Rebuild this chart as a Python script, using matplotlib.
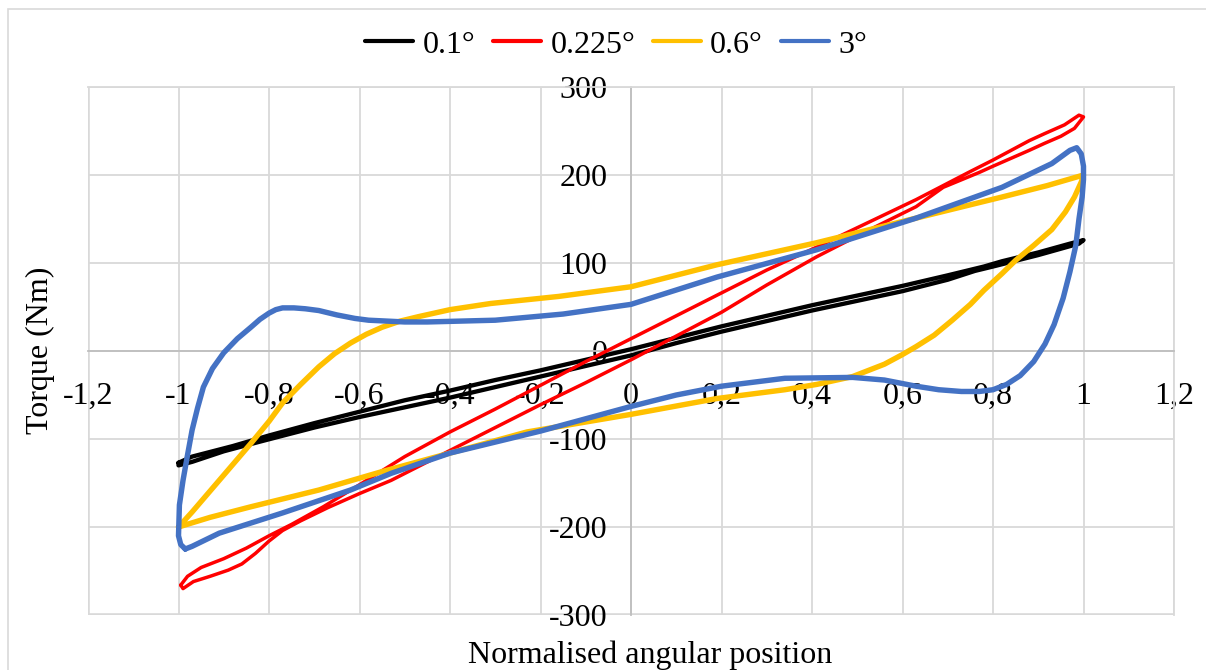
import matplotlib
matplotlib.use("Agg")
import matplotlib.pyplot as plt
from matplotlib.patches import Rectangle

plt.rcParams['font.family'] = ['Liberation Serif', 'DejaVu Serif']

# Hysteresis loops: torque vs normalised angular position
x_01 = [-1.0, -0.97, -0.88, -0.8, -0.7, -0.6, -0.5, -0.4, -0.3, -0.2, -0.1, 0.0,
        0.1, 0.2, 0.3, 0.4, 0.5, 0.6, 0.7, 0.78, 0.82, 0.9, 0.97, 1.0,
        0.99, 0.9, 0.8, 0.76, 0.7, 0.6, 0.5, 0.4, 0.3, 0.2, 0.1, 0.0,
        -0.1, -0.2, -0.3, -0.4, -0.5, -0.6, -0.7, -0.76, -0.82, -0.9, -0.97, -1.0, -1.0]
y_01 = [-127, -120, -108, -96, -82, -69, -56, -45, -33, -22, -10, 2,
        15, 28, 40, 52, 63, 74, 86, 96, 102, 112, 122, 126,
        122, 109, 96, 91, 81, 68, 57, 46, 34, 22, 9, -5,
        -17, -29, -41, -53, -64, -75, -87, -95, -103, -114, -126, -130, -127]

x_0225 = [-0.995, -0.98, -0.95, -0.9, -0.85, -0.8, -0.75, -0.68, -0.6, -0.5, -0.4, -0.3,
          -0.2, -0.1, 0.0, 0.1, 0.2, 0.3, 0.41, 0.52, 0.63, 0.69, 0.75, 0.8, 0.84,
          0.88, 0.914, 0.958, 0.99, 1.0, 0.98, 0.95, 0.914, 0.88, 0.84, 0.8, 0.77,
          0.69, 0.63, 0.52, 0.41, 0.3, 0.2, 0.1, 0.0, -0.1, -0.2, -0.3, -0.4,
          -0.53, -0.6, -0.67, -0.73, -0.77, -0.8, -0.83, -0.86, -0.89, -0.93,
          -0.967, -0.99, -0.995]
y_0225 = [-266, -256, -246, -236, -224, -210, -197, -177, -152, -120, -92, -66,
          -39, -12, 14, 40, 66, 92, 118, 145, 172, 188, 204, 217, 228,
          239, 247, 257, 268, 266, 253, 244, 236, 228, 219, 210, 203,
          186, 164, 136, 107, 75, 44, 17, -10, -36, -61, -87, -113,
          -147, -162, -178, -193, -204, -216, -230, -242, -249, -256,
          -262, -270, -266]

x_06 = [-1.0, -0.97, -0.94, -0.91, -0.875, -0.84, -0.8, -0.77, -0.73, -0.69, -0.655,
        -0.62, -0.585, -0.55, -0.51, -0.47, -0.4, -0.31, -0.16, 0.0, 0.19, 0.41,
        0.63, 0.82, 0.92, 1.0, 0.995, 0.98, 0.96, 0.93, 0.89, 0.85, 0.82, 0.78,
        0.75, 0.71, 0.67, 0.63, 0.6, 0.56, 0.49, 0.41, 0.34, 0.19, 0.0, -0.23,
        -0.4, -0.55, -0.69, -0.84, -0.93, -1.0]
y_06 = [-200, -183, -165, -147, -126, -105, -80, -59, -38, -18, -3,
        9, 19, 27, 34, 39, 47, 54, 62, 73, 98, 123,
        151, 175, 188, 200, 192, 175, 158, 138, 120, 103, 88, 69,
        53, 35, 18, 5, -4, -15, -29, -38, -44, -54, -72, -92,
        -116, -137, -158, -177, -189, -200]

x_3 = [-0.985, -0.995, -1.0, -0.998, -0.99, -0.98, -0.97, -0.958, -0.945, -0.925,
       -0.9, -0.87, -0.84, -0.82, -0.8, -0.785, -0.77, -0.745, -0.72, -0.69,
       -0.65, -0.61, -0.58, -0.54, -0.5, -0.45, -0.3, -0.15, 0.0, 0.19, 0.41,
       0.63, 0.82, 0.93, 0.97, 0.985, 0.995, 1.0, 1.0, 0.997, 0.99, 0.983,
       0.97, 0.955, 0.935, 0.915, 0.89, 0.86, 0.83, 0.8, 0.77, 0.73, 0.68,
       0.63, 0.56, 0.49, 0.34, 0.2, 0.1, 0.0, -0.2, -0.4, -0.53, -0.62, -0.77,
       -0.91, -0.97, -0.985]
y_3 = [-225, -220, -210, -175, -147, -118, -90, -65, -41, -20,
       -2, 14, 27, 36, 43, 47, 49, 49, 48, 46,
       41, 37, 35, 34, 33, 33, 35, 42, 53, 84, 115,
       151, 186, 213, 228, 231, 224, 210, 195, 175, 150, 120,
       90, 60, 30, 8, -12, -28, -38, -44, -46, -46, -44,
       -40, -33, -30, -31, -40, -50, -63, -91, -116, -139, -158, -184,
       -207, -222, -225]

series_labels = ['0.1°', '0.225°', '0.6°', '3°']
series_colors = ['#000000', '#FF0000', '#FFC000', '#4472C4']
series_widths = [3.1, 2.5, 3.9, 3.9]

x_ticks = [-1.2, -1.0, -0.8, -0.6, -0.4, -0.2, 0.0, 0.2, 0.4, 0.6, 0.8, 1.0, 1.2]
x_tick_labels = ['-1,2', '-1', '-0,8', '-0,6', '-0,4', '-0,2', '0',
                 '0,2', '0,4', '0,6', '0,8', '1', '1,2']
y_ticks = [-300, -200, -100, 0, 100, 200, 300]
y_tick_labels = ['-300', '-200', '-100', '0', '100', '200', '300']

FS = 23
W, H = 1206, 670
fig = plt.figure(figsize=(W / 100, H / 100), dpi=100)

# light chart-area border
fig.patches.append(Rectangle((8 / W, -0.1), 1.2, (H - 9) / H + 0.1,
                             transform=fig.transFigure, fill=False,
                             edgecolor='#d9d9d9', linewidth=1.2, zorder=0))

ax = fig.add_axes([88 / W, (H - 615) / H, (1174 - 88) / W, (615 - 87) / H])
ax.set_xlim(-1.2, 1.2)
ax.set_ylim(-300, 300)

grid_c = '#d9d9d9'
ax.set_xticks(x_ticks)
ax.set_xticklabels(x_tick_labels)
ax.set_yticks(y_ticks)
ax.set_yticklabels(y_tick_labels)
ax.grid(True, color=grid_c, linewidth=1.3, zorder=0)
ax.set_axisbelow(True)

for side in ('top', 'right'):
    ax.spines[side].set_color(grid_c)
    ax.spines[side].set_linewidth(1.3)
ax.spines['left'].set_position(('data', 0))
ax.spines['bottom'].set_position(('data', 0))
ax.spines['left'].set_color('#bfbfbf')
ax.spines['bottom'].set_color('#bfbfbf')
ax.spines['left'].set_linewidth(1.3)
ax.spines['bottom'].set_linewidth(1.3)
# outer frame drawn as grid-coloured lines
ax.axvline(-1.2, color=grid_c, lw=2.6, zorder=0)
ax.axhline(-300, color=grid_c, lw=2.6, zorder=0)

ax.tick_params(axis='both', length=0, labelsize=FS, colors='black')
ax.tick_params(axis='x', pad=22)
ax.tick_params(axis='y', pad=17)

data = [(x_01, y_01), (x_0225, y_0225), (x_06, y_06), (x_3, y_3)]
for (xs, ys), lab, col, lw in zip(data, series_labels, series_colors, series_widths):
    ax.plot(xs, ys, color=col, lw=lw, label=lab, solid_joinstyle='round',
            solid_capstyle='round', clip_on=False, zorder=3)

ax.set_xlabel('Normalised angular position', fontsize=FS)
ax.set_ylabel('Torque (Nm)', fontsize=FS)
ax.xaxis.set_label_coords(650 / W, (H - 655) / H, transform=fig.transFigure)
ax.xaxis.label.set_va('center')
ax.yaxis.set_label_coords(40 / W, (H - 350) / H, transform=fig.transFigure)
ax.yaxis.label.set_va('center')

leg = fig.legend(loc='center', bbox_to_anchor=(616 / W, (H - 45) / H), ncol=4,
                 frameon=False, fontsize=FS, handlelength=1.5,
                 handletextpad=0.3, columnspacing=0.55, borderaxespad=0)
for line in leg.get_lines():
    line.set_linewidth(3.0)

fig.savefig('out.png', dpi=100)
